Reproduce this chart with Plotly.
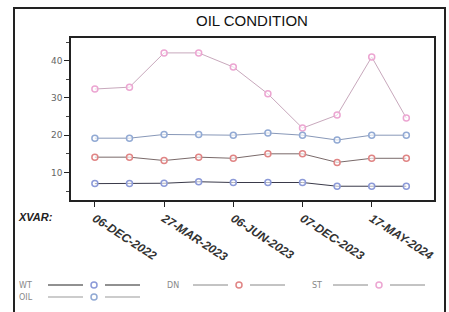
import plotly.graph_objects as go

W, H = 449, 312
visits = list(range(10))
tick_pos = [0, 2, 4, 6, 8]
tick_labels = ["06-DEC-2022", "27-MAR-2023", "06-JUN-2023", "07-DEC-2023", "17-MAY-2024"]

st = [32.4, 32.9, 42.1, 42.1, 38.3, 31.1, 21.9, 25.4, 41.0, 24.6]
oil = [19.2, 19.2, 20.2, 20.2, 20.0, 20.6, 20.0, 18.7, 20.0, 20.0]
dn = [14.1, 14.1, 13.2, 14.1, 13.8, 15.0, 15.0, 12.7, 13.8, 13.8]
wt = [7.0, 7.0, 7.1, 7.5, 7.3, 7.3, 7.3, 6.3, 6.3, 6.3]

series = [
    ("WT", wt, "#3a3a4a", "#8c9ad8"),
    ("DN", dn, "#7a6a6a", "#e08585"),
    ("ST", st, "#c8a8bc", "#eca6d2"),
    ("OIL", oil, "#8898b8", "#92aad4"),
]

fig = go.Figure()
for name, vals, lc, mc in series:
    fig.add_trace(go.Scatter(
        x=visits, y=vals, name=name, mode="lines+markers",
        line=dict(color=lc, width=1),
        marker=dict(symbol="circle", size=6, color="rgba(255,255,255,0.6)",
                    line=dict(color=mc, width=1.5)),
        showlegend=False,
    ))

def px(x):
    return x / W

def py(y):
    return 1 - y / H

shapes = []
annotations = []

# outer frame
shapes.append(dict(type="rect", xref="paper", yref="paper",
                   x0=px(14), x1=px(445), y0=py(330), y1=py(8),
                   line=dict(color="#222", width=2)))

# title
annotations.append(dict(text="OIL CONDITION", xref="paper", yref="paper",
                        x=px(252), y=py(21), showarrow=False,
                        font=dict(family="Liberation Sans, Arial", size=15, color="#111"),
                        xanchor="center", yanchor="middle"))
# XVAR label
annotations.append(dict(text="<b><i>XVAR:</i></b>", xref="paper", yref="paper",
                        x=px(16), y=py(217), showarrow=False,
                        font=dict(family="Liberation Sans, Arial", size=11, color="#222"),
                        xanchor="left", yanchor="middle"))

# custom legend
legend_layout = [
    ("WT", 17, 285, "#222", "#8c9ad8", 48),
    ("DN", 165, 285, "#888", "#e08585", 193),
    ("ST", 310, 285, "#888", "#eca6d2", 333),
    ("OIL", 17, 297, "#999", "#92aad4", 48),
]
for name, tx, ty, lc, mc, lx in legend_layout:
    annotations.append(dict(text=name, xref="paper", yref="paper",
                            x=px(tx), y=py(ty), showarrow=False,
                            font=dict(family="DejaVu Sans", size=8, color="#888"),
                            xanchor="left", yanchor="middle"))
    shapes.append(dict(type="line", xref="paper", yref="paper",
                       x0=px(lx), x1=px(lx + 35), y0=py(ty), y1=py(ty),
                       line=dict(color=lc, width=1)))
    shapes.append(dict(type="line", xref="paper", yref="paper",
                       x0=px(lx + 57), x1=px(lx + 92), y0=py(ty), y1=py(ty),
                       line=dict(color=lc, width=1)))
    cx = lx + 46
    shapes.append(dict(type="circle", xref="paper", yref="paper",
                       x0=px(cx - 3), x1=px(cx + 3), y0=py(ty + 3), y1=py(ty - 3),
                       line=dict(color=mc, width=1.5), fillcolor="rgba(255,255,255,0)"))

fig.update_layout(
    width=W, height=H,
    margin=dict(l=0, r=0, t=0, b=0),
    paper_bgcolor="white", plot_bgcolor="white",
    shapes=shapes, annotations=annotations,
    xaxis=dict(domain=[px(71), px(434)], range=[-0.69, 9.8],
               tickvals=tick_pos, ticktext=tick_labels, tickangle=33,
               ticks="outside", ticklen=5, tickcolor="#222",
               showgrid=False, zeroline=False, automargin=False,
               showline=True, linecolor="#222", linewidth=2, mirror=True,
               tickfont=dict(family="Liberation Sans, Arial", size=12, color="#333",
                             weight="bold", style="italic")),
    yaxis=dict(domain=[py(200), py(38)], range=[2.6, 46.1],
               tick0=0, dtick=10, ticks="outside", ticklen=5, tickcolor="#222",
               minor=dict(dtick=5, tick0=0, ticks="outside", ticklen=3, tickcolor="#444"),
               showgrid=False, zeroline=False, automargin=False,
               showline=True, linecolor="#222", linewidth=1.5, mirror=True,
               tickfont=dict(family="DejaVu Sans", size=9, color="#666")),
)

fig.write_html("out.html", config={"displayModeBar": False},
               post_script="document.body.style.margin='0px';")
